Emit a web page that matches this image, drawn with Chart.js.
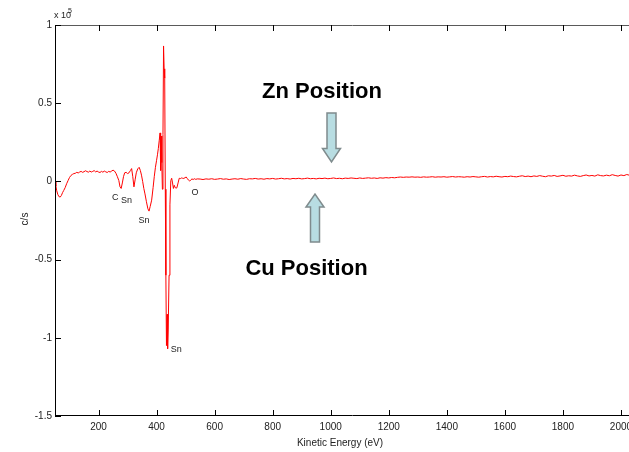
<!DOCTYPE html>
<html>
<head>
<meta charset="utf-8">
<title>Kinetic Energy spectrum</title>
<script src="https://cdn.jsdelivr.net/npm/chart.js@4.4.0/dist/chart.umd.min.js"></script>
<style>
    html, body { margin: 0; padding: 0; background: #ffffff; overflow: hidden; }
    #wrap { width: 660px; height: 452px; }
</style>
</head>
<body>
<div id="wrap"><canvas id="spectrum" width="660" height="452"></canvas></div>
<script>
// spectrum data, signal in units of 1e5 c/s

var energy = [
    50, 53, 56, 60, 64, 68, 72, 76, 80, 85, 90, 95, 100, 105, 110, 115, 120, 125, 130, 135,
    140, 145, 150, 155, 160, 165, 170, 175, 180, 185, 190, 195, 200, 205, 210, 215, 220, 225, 230, 235,
    240, 245, 250, 255, 260, 265, 270, 274, 278, 282, 286, 290, 295, 300, 305, 310, 314, 318, 322, 326,
    330, 335, 340, 344, 348, 352, 356, 360, 365, 370, 374, 378, 383, 388, 392, 396, 400,
    403, 406, 409, 412, 414, 416, 418, 420, 422, 424, 426, 428, 430, 432, 434, 436, 438, 440, 443,
    446, 449, 452, 455, 458, 461, 464, 467, 470, 474, 478, 482, 486, 490, 494, 498, 502, 506, 510, 514,
    518, 522, 526, 530, 535, 540,
    550, 560, 570, 580, 590, 600, 610, 620, 630, 640, 650, 660, 670, 680, 690, 700, 710, 720, 730, 740,
    750, 760, 770, 780, 790, 800, 810, 820, 830, 840, 850, 860, 870, 880, 890, 900, 910, 920, 930, 940,
    950, 960, 970, 980, 990, 1000, 1010, 1020, 1030, 1040, 1050, 1060, 1070, 1080, 1090, 1100, 1110, 1120, 1130, 1140,
    1150, 1160, 1170, 1180, 1190, 1200, 1210, 1220, 1230, 1240, 1250, 1260, 1270, 1280, 1290, 1300, 1310, 1320, 1330, 1340,
    1350, 1360, 1370, 1380, 1390, 1400, 1410, 1420, 1430, 1440, 1450, 1460, 1470, 1480, 1490, 1500, 1510, 1520, 1530, 1540,
    1550, 1560, 1570, 1580, 1590, 1600, 1610, 1620, 1630, 1640, 1650, 1660, 1670, 1680, 1690, 1700, 1710, 1720, 1730, 1740,
    1750, 1760, 1770, 1780, 1790, 1800, 1810, 1820, 1830, 1840, 1850, 1860, 1870, 1880, 1890, 1900, 1910, 1920, 1930, 1940,
    1950, 1960, 1970, 1980, 1990, 2000, 2010, 2020, 2030, 2040, 2050, 2060, 2070, 2080, 2090, 2100
];

var signal = [
    0.000, -0.030, -0.060, -0.085, -0.098, -0.100, -0.090, -0.072, -0.058, -0.040, -0.015, 0.005, 0.025, 0.038, 0.045, 0.050, 0.052, 0.058, 0.054, 0.060,
    0.064, 0.058, 0.062, 0.068, 0.063, 0.059, 0.066, 0.060, 0.064, 0.069, 0.061, 0.066, 0.060, 0.057, 0.064, 0.059, 0.066, 0.061, 0.057, 0.064,
    0.060, 0.066, 0.072, 0.066, 0.052, 0.030, 0.005, -0.035, -0.045, -0.010, 0.030, 0.055, 0.058, 0.050, 0.055, 0.070, 0.082, 0.030, -0.035, 0.010,
    0.055, 0.080, 0.090, 0.070, 0.040, 0.000, -0.045, -0.080, -0.130, -0.175, -0.190, -0.160, -0.120, -0.040, 0.030, 0.090, 0.135,
    0.170, 0.210, 0.260, 0.310, 0.070, 0.290, 0.120, -0.050, 0.300, 0.866, 0.720, 0.660, -0.050, -0.600, -1.050, -0.850, -1.070, -0.950, -0.600,
    -0.150, 0.005, 0.020, -0.010, -0.045, -0.025, -0.040, -0.042, -0.040, -0.010, 0.020, 0.018, 0.022, 0.020, 0.019, 0.024, 0.028, 0.018, 0.008, 0.002,
    0.010, 0.016, 0.012, 0.017, 0.013, 0.016,
    0.015, 0.012, 0.016, 0.014, 0.017, 0.013, 0.015, 0.018, 0.014, 0.016, 0.012, 0.015, 0.017, 0.014, 0.018, 0.015, 0.013, 0.017, 0.016, 0.019,
    0.015, 0.017, 0.014, 0.018, 0.016, 0.019, 0.015, 0.017, 0.020, 0.016, 0.018, 0.015, 0.019, 0.017, 0.020, 0.016, 0.018, 0.021, 0.017, 0.019,
    0.016, 0.020, 0.018, 0.021, 0.017, 0.019, 0.022, 0.018, 0.020, 0.017, 0.021, 0.019, 0.022, 0.020, 0.018, 0.022, 0.019, 0.021, 0.023, 0.020,
    0.022, 0.019, 0.023, 0.021, 0.024, 0.022, 0.025, 0.023, 0.026, 0.028, 0.026, 0.028, 0.027, 0.029, 0.027, 0.028, 0.026, 0.029, 0.027, 0.028,
    0.030, 0.027, 0.029, 0.028, 0.030, 0.027, 0.029, 0.031, 0.028, 0.030, 0.029, 0.027, 0.030, 0.028, 0.031, 0.029, 0.027, 0.030, 0.032, 0.028,
    0.031, 0.029, 0.033, 0.030, 0.028, 0.032, 0.030, 0.034, 0.031, 0.029, 0.033, 0.036, 0.031, 0.034, 0.030, 0.035, 0.032, 0.037, 0.033, 0.030,
    0.036, 0.034, 0.038, 0.032, 0.035, 0.039, 0.033, 0.036, 0.034, 0.040, 0.035, 0.032, 0.037, 0.041, 0.035, 0.038, 0.034, 0.042, 0.037, 0.035,
    0.040, 0.036, 0.043, 0.038, 0.034, 0.041, 0.037, 0.044, 0.039, 0.036, 0.042, 0.038, 0.041, 0.037, 0.040, 0.039
];

var xTicks = [200, 400, 600, 800, 1000, 1200, 1400, 1600, 1800, 2000];
var yTicks = [-1.5, -1, -0.5, 0, 0.5, 1];

// peak labels (energy in eV, level in 1e5 c/s)
var peakNames = ['C', 'Sn', 'Sn', 'O', 'Sn'];
var peakEnergy = [258, 296, 357, 532, 468];
var peakLevel = [-0.10, -0.125, -0.252, -0.074, -1.078];

var axisFont = '10px "Liberation Sans", Arial, sans-serif';
var calloutFont = 'bold 22px "Liberation Sans", Arial, sans-serif';

// block arrow: tail -> head base -> tip, works both up and down
function drawBlockArrow(ctx, cx, tailY, baseY, tipY, shaftW, headW) {
    ctx.beginPath();
    ctx.moveTo(cx - shaftW / 2, tailY);
    ctx.lineTo(cx - shaftW / 2, baseY);
    ctx.lineTo(cx - headW / 2, baseY);
    ctx.lineTo(cx, tipY);
    ctx.lineTo(cx + headW / 2, baseY);
    ctx.lineTo(cx + shaftW / 2, baseY);
    ctx.lineTo(cx + shaftW / 2, tailY);
    ctx.closePath();
    ctx.fillStyle = '#b8dde2';
    ctx.fill();
    ctx.lineWidth = 1.5;
    ctx.strokeStyle = '#7f8b8d';
    ctx.stroke();
}

// axes box, inward ticks, labels and callouts
var framePlugin = {
    id: 'framePlugin',
    afterDraw: function (chart) {
        var ctx = chart.ctx;
        var area = chart.chartArea;
        var xs = chart.scales.x;
        var ys = chart.scales.y;
        var tick = 6;

        ctx.save();

        // top edge
        ctx.strokeStyle = '#5a5a5a';
        ctx.lineWidth = 1;
        ctx.beginPath();
        ctx.moveTo(area.left, area.top + 0.5);
        ctx.lineTo(area.right, area.top + 0.5);
        ctx.stroke();

        // left and bottom axes
        ctx.strokeStyle = '#000000';
        ctx.beginPath();
        ctx.moveTo(area.left + 0.5, area.top);
        ctx.lineTo(area.left + 0.5, area.bottom);
        ctx.moveTo(area.left, area.bottom - 0.5);
        ctx.lineTo(area.right, area.bottom - 0.5);
        ctx.stroke();

        // ticks
        ctx.beginPath();
        xTicks.forEach(function (v) {
            var px = Math.round(xs.getPixelForValue(v)) + 0.5;
            ctx.moveTo(px, area.bottom);
            ctx.lineTo(px, area.bottom - tick);
            ctx.moveTo(px, area.top);
            ctx.lineTo(px, area.top + tick);
        });
        yTicks.forEach(function (v) {
            var py = Math.round(ys.getPixelForValue(v)) + 0.5;
            ctx.moveTo(area.left, py);
            ctx.lineTo(area.left + tick, py);
        });
        ctx.stroke();

        // axis titles and exponent
        ctx.fillStyle = '#222222';
        ctx.font = axisFont;
        ctx.textAlign = 'center';
        ctx.textBaseline = 'middle';
        ctx.fillText('Kinetic Energy (eV)', 340, 443);

        ctx.save();
        ctx.translate(25, 219);
        ctx.rotate(-Math.PI / 2);
        ctx.fillText('c/s', 0, 0);
        ctx.restore();

        ctx.textAlign = 'left';
        ctx.textBaseline = 'alphabetic';
        ctx.font = '9px "Liberation Sans", Arial, sans-serif';
        ctx.fillText('x 10', 54, 18);
        ctx.font = '7px "Liberation Sans", Arial, sans-serif';
        ctx.fillText('5', 68, 13);

        // peak labels
        ctx.font = '9px "Liberation Sans", Arial, sans-serif';
        ctx.textAlign = 'center';
        ctx.textBaseline = 'middle';
        for (var i = 0; i < peakNames.length; i++) {
            ctx.fillText(peakNames[i], xs.getPixelForValue(peakEnergy[i]), ys.getPixelForValue(peakLevel[i]));
        }

        // Zn / Cu position callouts
        drawBlockArrow(ctx, 331.5, 113, 148.5, 162, 9, 18);
        drawBlockArrow(ctx, 315, 242, 207, 194, 9, 18);

        ctx.fillStyle = '#000000';
        ctx.font = calloutFont;
        ctx.textBaseline = 'alphabetic';
        ctx.fillText('Zn Position', 322, 98);
        ctx.fillText('Cu Position', 306.5, 275);

        ctx.restore();
    }
};

var points = [];
for (var i = 0; i < energy.length; i++) {
    points.push({ x: energy[i], y: signal[i] });
}

var ctx = document.getElementById('spectrum').getContext('2d');

var spectrumChart = new Chart(ctx, {
    type: 'line',
    data: {
        datasets: [{
            data: points,
            borderColor: '#ff0000',
            borderWidth: 1,
            pointRadius: 0,
            tension: 0,
            fill: false
        }]
    },
    options: {
        responsive: false,
        animation: false,
        devicePixelRatio: 1,
        layout: {
            padding: { top: 25, left: 0, right: 10, bottom: 0 }
        },
        plugins: {
            legend: { display: false },
            tooltip: { enabled: false }
        },
        scales: {
            x: {
                type: 'linear',
                min: 50,
                max: 2100,
                afterBuildTicks: function (scale) {
                    scale.ticks = xTicks.map(function (v) { return { value: v }; });
                },
                afterFit: function (scale) {
                    scale.height = 36;
                },
                grid: { display: false, drawTicks: false },
                border: { display: false },
                ticks: {
                    color: '#222222',
                    font: { family: '"Liberation Sans", Arial, sans-serif', size: 10 },
                    padding: 5,
                    maxRotation: 0,
                    autoSkip: false,
                    callback: function (v) { return String(v); }
                }
            },
            y: {
                min: -1.5,
                max: 1,
                afterBuildTicks: function (scale) {
                    scale.ticks = yTicks.map(function (v) { return { value: v }; });
                },
                afterFit: function (scale) {
                    scale.width = 55;
                },
                grid: { display: false, drawTicks: false },
                border: { display: false },
                ticks: {
                    color: '#222222',
                    font: { family: '"Liberation Sans", Arial, sans-serif', size: 10 },
                    padding: 3,
                    autoSkip: false,
                    callback: function (v) { return String(v); }
                }
            }
        }
    },
    plugins: [framePlugin]
});
</script>
</body>
</html>
